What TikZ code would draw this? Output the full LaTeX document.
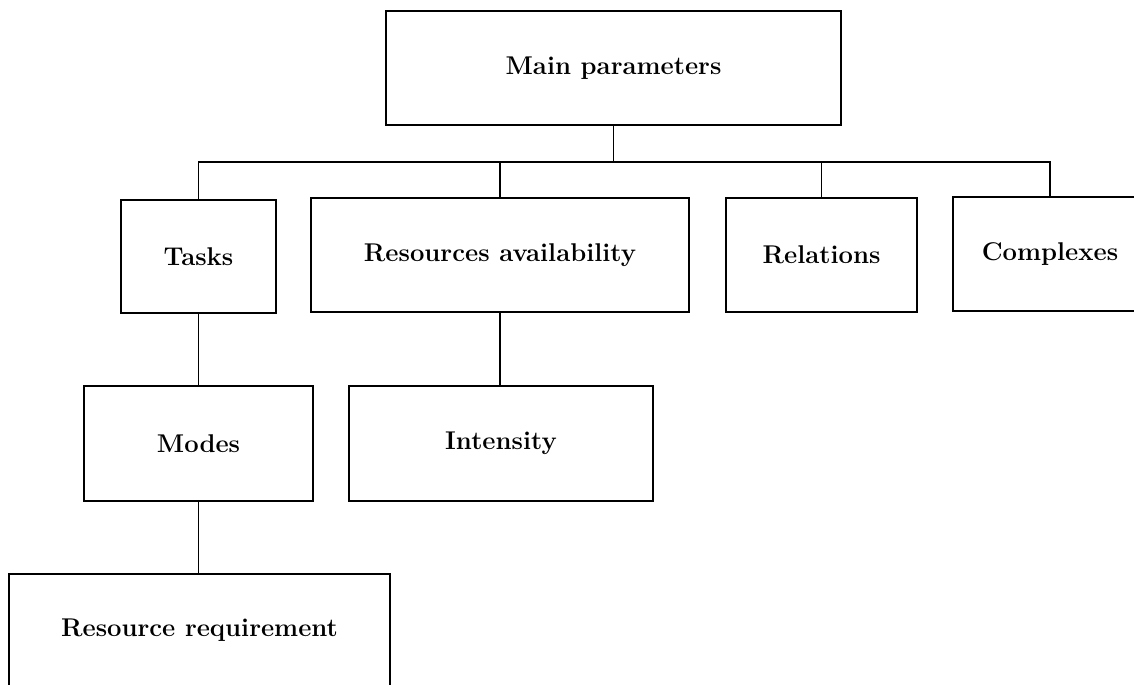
\documentclass[tikz,border=0pt]{standalone}
\begin{document}
\begin{tikzpicture}[x=0.02cm,y=-0.02cm,
  box/.style={draw, line width=1.4pt, rectangle, inner sep=0pt,
    font=\fontsize{14.6}{17}\selectfont\bfseries},
  link/.style={line width=1.1pt}]
\useasboundingbox (0,0) rectangle (1134,685);
\clip (0,0) rectangle (1134,685);

% top level
\node[box, minimum width=9.1cm, minimum height=2.28cm] (main) at (613.5,68) {Main parameters};

% second level
\node[box, minimum width=3.1cm, minimum height=2.26cm] (tasks) at (198.5,256.5) {Tasks};
\node[box, minimum width=7.56cm, minimum height=2.28cm] (res) at (500,255) {Resources availability};
\node[box, minimum width=3.82cm, minimum height=2.28cm] (rel) at (821.5,255) {Relations};
\node[box, minimum width=3.88cm, minimum height=2.28cm] (cplx) at (1050,254) {Complexes};

% third level
\node[box, minimum width=4.58cm, minimum height=2.3cm] (modes) at (198.5,443.5) {Modes};
\node[box, minimum width=6.08cm, minimum height=2.3cm] (inten) at (501,443.5) {Intensity};

% fourth level
\node[box, minimum width=7.62cm, minimum height=2.24cm] (req) at (199.5,630) {Resource requirement};

% connectors
\coordinate (bus) at (613.5,162);
\draw[link] (main.south) -- (bus);
\draw[link] (tasks.north) -- (tasks.north |- bus) -- (cplx.north |- bus) -- (cplx.north);
\draw[link] (res.north) -- (res.north |- bus);
\draw[link] (rel.north) -- (rel.north |- bus);
\draw[link] (tasks.south) -- (modes.north);
\draw[link] (res.south) -- (res.south |- inten.north);
\draw[link] (modes.south) -- (modes.south |- req.north);
\end{tikzpicture}
\end{document}
